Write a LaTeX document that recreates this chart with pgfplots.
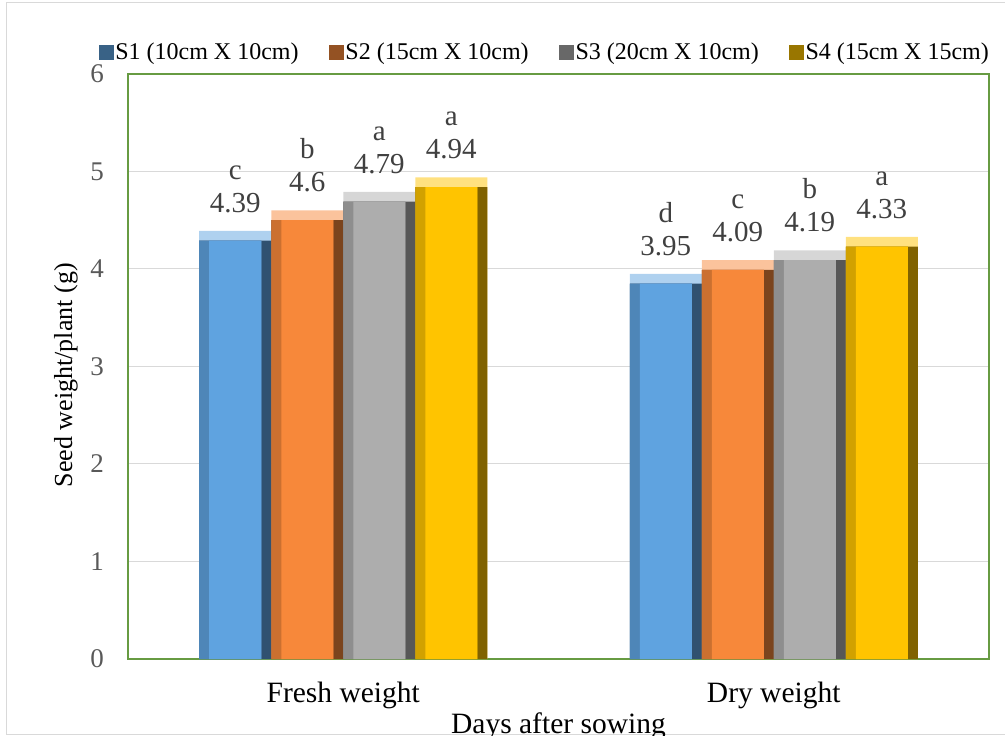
\documentclass[border=0pt]{standalone}
\usepackage{fontspec}
\setmainfont{Liberation Serif}
\usepackage{pgfplots}
\usepackage{pgfplotstable}
\pgfplotsset{compat=1.18}
\definecolor{cSone}{HTML}{5FA3E0}
\definecolor{cStwo}{HTML}{F7883A}
\definecolor{cSthree}{HTML}{ADADAD}
\definecolor{cSfour}{HTML}{FFC400}
\definecolor{axgreen}{HTML}{679B42}
\definecolor{gridgray}{HTML}{D9D9D9}
\definecolor{ticklab}{HTML}{595959}
\definecolor{datalab}{HTML}{404040}

\pgfplotstableread{
x y lab
0 4.39 c
1 3.95 d
}\sone
\pgfplotstableread{
x y lab
0 4.60 b
1 4.09 c
}\stwo
\pgfplotstableread{
x y lab
0 4.79 a
1 4.19 b
}\sthree
\pgfplotstableread{
x y lab
0 4.94 a
1 4.33 a
}\sfour

% #1 table, #2 colour, #3 bar shift, #4 shift of the left facet layer
\newcommand\bevbar[4]{%
\addplot[forget plot, fill=#2!50!white, draw=none, bar shift=#3, bar width=72bp,
  point meta=explicit symbolic, visualization depends on={rawy\as\yval},
  nodes near coords={\pgfplotspointmeta\\\pgfmathprintnumber{\yval}}] table[x=x,y=y,meta=lab]{#1};
\addplot[forget plot, fill=#2!50!black, draw=none, bar shift=#3, bar width=72bp] table[x=x,y expr=\thisrow{y}-0.1]{#1};
\addplot[forget plot, fill=#2!82!black, draw=none, bar shift=#4, bar width=62bp] table[x=x,y expr=\thisrow{y}-0.1]{#1};
\addplot[fill=#2, draw=none, bar shift=#3, bar width=52bp,
  legend image code/.code={\fill[#2] (0bp,-7bp) rectangle (14bp,7bp);
    \draw[#2!60!black, line width=0.8bp] (0bp,-7bp) rectangle (14bp,7bp);}]
  table[x=x,y expr=\thisrow{y}-0.1]{#1};
}

\begin{document}
\begin{tikzpicture}
\useasboundingbox (-128bp,-77bp) rectangle (877bp,659bp);
\draw[gridgray, line width=1bp] (880bp,656bp) -- (-121bp,656bp) -- (-121bp,-75bp) -- (880bp,-75bp);
\begin{axis}[
  at={(0,0)}, anchor=south west,
  scale only axis, width=861bp, height=585bp,
  ymin=0, ymax=6, xmin=-0.5, xmax=1.5,
  ytick={0,1,2,3,4,5,6},
  xtick={0,1}, xticklabels={Fresh weight, Dry weight},
  ybar,
  axis line style={draw=axgreen, line width=2.5bp},
  ymajorgrids, grid style={gridgray, line width=1bp},
  major tick length=0pt,
  /pgf/number format/assume math mode=true,
  yticklabel style={font=\fontsize{27bp}{30bp}\selectfont, text=ticklab, inner sep=0pt, anchor=east, xshift=-24bp},
  xticklabel style={font=\fontsize{29.5bp}{33bp}\selectfont, text=black, inner sep=0pt, anchor=base, yshift=-43bp},
  xlabel={Days after sowing},
  xlabel style={font=\fontsize{29.5bp}{33bp}\selectfont, at={(axis description cs:0.5,0)}, anchor=base, inner sep=0pt, yshift=-74bp},
  ylabel={Seed weight/plant (g)},
  ylabel style={font=\fontsize{26bp}{30bp}\selectfont, at={(axis description cs:-0.072,0.485)}, anchor=center, inner sep=0pt},
  legend columns=4,
  legend style={at={(axis description cs:0.484,1.0376)}, anchor=center, draw=none, fill=none,
    font=\fontsize{24bp}{27bp}\selectfont, inner sep=0pt,
    /tikz/every even column/.append style={column sep=28bp}},
  legend cell align=left,
  every node near coord/.append style={font=\fontsize{29bp}{33bp}\selectfont, text=datalab, align=center, anchor=south, inner sep=0pt, yshift=18bp},
]
\bevbar{\sone}{cSone}{-108bp}{-113bp}
\bevbar{\stwo}{cStwo}{-36bp}{-41bp}
\bevbar{\sthree}{cSthree}{36bp}{31bp}
\bevbar{\sfour}{cSfour}{108bp}{103bp}
\legend{S1 (10cm X 10cm), S2 (15cm X 10cm), S3 (20cm X 10cm), S4 (15cm X 15cm)}
\end{axis}
\end{tikzpicture}
\end{document}
